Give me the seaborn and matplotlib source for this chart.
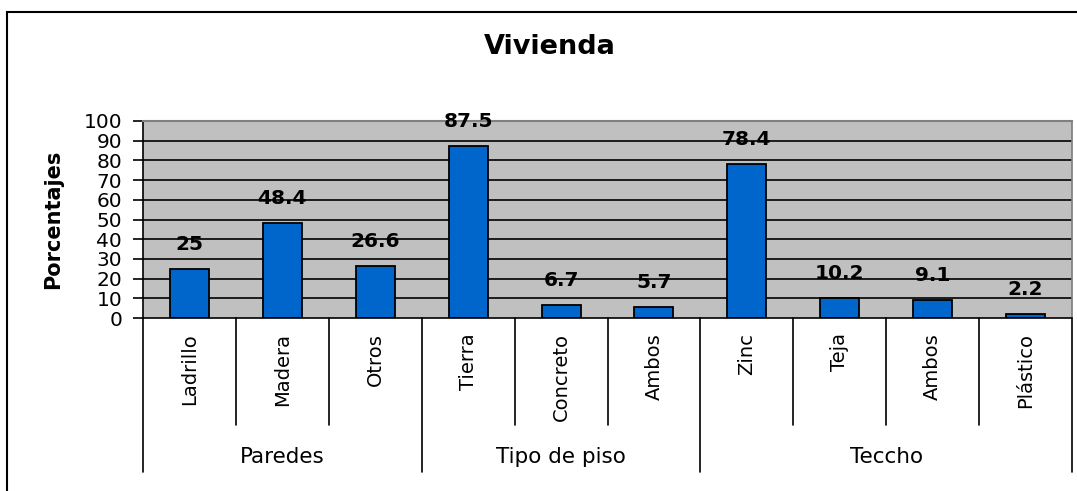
import matplotlib
matplotlib.use("Agg")
import matplotlib.pyplot as plt
import matplotlib.patches as mpatches
import pandas as pd
import seaborn as sns

sns.set_theme(style="white")
plt.rcParams['font.family'] = ['DejaVu Sans']
plt.rcParams.update({"text.color": "black", "axes.labelcolor": "black",
                     "xtick.color": "black", "ytick.color": "black"})

# ------------------------
# Data
# ------------------------
categories = ["Ladrillo", "Madera", "Otros", "Tierra", "Concreto", "Ambos",
              "Zinc", "Teja", "Ambos", "Plástico"]
values = [25, 48.4, 26.6, 87.5, 6.7, 5.7, 78.4, 10.2, 9.1, 2.2]
value_labels = ["25", "48.4", "26.6", "87.5", "6.7", "5.7", "78.4", "10.2", "9.1", "2.2"]
groups = ["Paredes", "Tipo de piso", "Teccho"]
group_sizes = [3, 3, 4]
y_ticks = list(range(0, 101, 10))

df = pd.DataFrame({"key": [f"{i}" for i in range(len(categories))],
                   "value": values})

W, H = 1077, 491
fig = plt.figure(figsize=(W / 100, H / 100), dpi=100)

# outer frame of the chart
fig.patches.append(mpatches.Rectangle((7 / W, -0.1), 1.2, (H - 12) / H + 0.1,
                                      transform=fig.transFigure, fill=False,
                                      edgecolor="black", linewidth=1.5))

left, right, top, bottom = 143, 1072, 121, 318
ax = fig.add_axes([left / W, (H - bottom) / H, (right - left) / W, (bottom - top) / H])
ax.set_facecolor("#C0C0C0")

sns.barplot(data=df, x="key", y="value", color="#0066CC", width=0.42,
            edgecolor="black", linewidth=1.3, saturation=1, ax=ax)

ax.set_ylim(0, 100)
ax.set_xlim(-0.5, len(categories) - 0.5)
ax.set_yticks(y_ticks)
ax.set_yticklabels([str(t) for t in y_ticks], fontsize=14.5)
for t in y_ticks[1:]:
    ax.axhline(t, color="black", linewidth=1.2, zorder=0.5)
ax.tick_params(axis="y", length=7, width=1.2, color="black", left=True, pad=8)
ax.tick_params(axis="x", length=0, labelbottom=False)

for s in ["left", "bottom"]:
    ax.spines[s].set_color("black")
    ax.spines[s].set_linewidth(1.2)
ax.spines["right"].set_color("#808080")
ax.spines["top"].set_color("#808080")
ax.spines["top"].set_linewidth(1.5)

ax.set_xlabel("")
ax.set_ylabel("Porcentajes", fontsize=15, fontweight="bold")
ax.yaxis.set_label_coords((63 - left) / (right - left), 0.5)
fig.text(550 / W, (H - 47) / H, "Vivienda", fontsize=19.5, fontweight="bold",
         ha="center", va="center")

# value labels
for i, (v, lab) in enumerate(zip(values, value_labels)):
    ax.annotate(lab, (i, v), xytext=(0, 17.5), textcoords="offset points",
                ha="center", va="center", fontsize=14.5, fontweight="bold")

# hierarchical category axis
trans = ax.get_xaxis_transform()
ax_h = bottom - top
sep_low = -(425 - bottom) / ax_h
grp_low = -(472 - bottom) / ax_h
for i, cat in enumerate(categories):
    ax.text(i, -15 / ax_h, cat, transform=trans, rotation=90, ha="center",
            va="top", fontsize=14)

start = 0
boundaries = [0]
for g, n in zip(groups, group_sizes):
    ax.text(start + n / 2 - 0.5, -(457 - bottom) / ax_h, g, transform=trans,
            ha="center", va="center", fontsize=15.5)
    for k in range(1, n):
        x = start + k - 0.5
        ax.plot([x, x], [0, sep_low], transform=trans, color="black",
                linewidth=1.2, clip_on=False)
    start += n
    boundaries.append(start)
for b in boundaries:
    x = b - 0.5
    ax.plot([x, x], [0, grp_low], transform=trans, color="black",
            linewidth=1.2, clip_on=False)

fig.savefig("out.png", dpi=100)
